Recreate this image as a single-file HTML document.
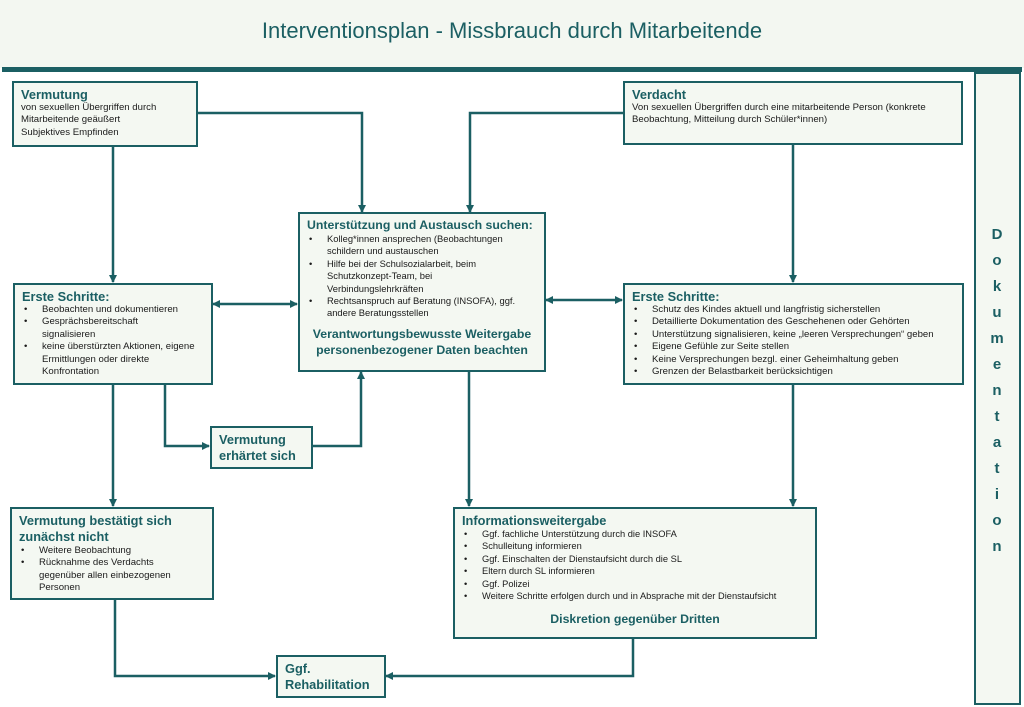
<!DOCTYPE html>
<html><head><meta charset="utf-8"><style>
*{margin:0;padding:0;box-sizing:border-box}
body{width:1024px;height:707px;background:#fff;position:relative;overflow:hidden;font-family:"Liberation Sans",sans-serif;color:#1a1a1a}
.hdr{position:absolute;left:0;top:0;width:1024px;height:68px;background:#f3f7f1;text-align:center;font-size:22px;line-height:62px;color:#1b5f63}
.bar{position:absolute;left:2px;top:67px;width:1020px;height:5px;background:#1b5f63}
.b{position:absolute;border:2.5px solid #1b5f63;background:#f4f8f2;padding:4px 7px;font-size:9.6px;line-height:12.4px}
.h{color:#1b5f63;font-weight:bold;font-size:12.8px;line-height:15px}
ul{list-style:none}
li{position:relative;padding-left:20px}
li:before{content:"•";position:absolute;left:2px}
.c{text-align:center;color:#1b5f63;font-weight:bold;font-size:12.3px;line-height:16px}
.dok{position:absolute;left:974px;top:72px;width:47px;height:633px;border:2.5px solid #1b5f63;background:#f4f8f2}
.dok span{position:absolute;left:0;width:42px;text-align:center;color:#1b5f63;font-weight:bold;font-size:15px}
svg{position:absolute;left:0;top:0}
</style></head><body>
<div class="hdr">Interventionsplan - Missbrauch durch Mitarbeitende</div>
<div class="bar"></div>
<svg width="1024" height="707">
<defs><marker id="a" markerWidth="8" markerHeight="8" refX="7" refY="4" orient="auto" markerUnits="userSpaceOnUse"><path d="M0,0 L8,4 L0,8 z" fill="#1b5f63"/></marker>
<marker id="s" markerWidth="8" markerHeight="8" refX="1" refY="4" orient="auto" markerUnits="userSpaceOnUse"><path d="M8,0 L0,4 L8,8 z" fill="#1b5f63"/></marker></defs>
<g stroke="#1b5f63" stroke-width="2.5" fill="none">
<path d="M113 146 V282" marker-end="url(#a)"/>
<path d="M197 113 H362 V212" marker-end="url(#a)"/>
<path d="M623 113 H470 V212" marker-end="url(#a)"/>
<path d="M793 144 V282" marker-end="url(#a)"/>
<path d="M213 304 H297" marker-start="url(#s)" marker-end="url(#a)"/>
<path d="M546 300 H622" marker-start="url(#s)" marker-end="url(#a)"/>
<path d="M113 384 V506" marker-end="url(#a)"/>
<path d="M165 384 V446 H209" marker-end="url(#a)"/>
<path d="M312 446 H361 V372" marker-end="url(#a)"/>
<path d="M469 371 V506" marker-end="url(#a)"/>
<path d="M793 384 V506" marker-end="url(#a)"/>
<path d="M115 599 V676 H275" marker-end="url(#a)"/>
<path d="M633 638 V676 H386" marker-end="url(#a)"/>
</g></svg>
<div class="b" style="left:12px;top:81px;width:186px;height:66px"><div class="h">Vermutung</div>von sexuellen Übergriffen durch<br>Mitarbeitende geäußert<br>Subjektives Empfinden</div>
<div class="b" style="left:623px;top:81px;width:340px;height:64px"><div class="h">Verdacht</div>Von sexuellen Übergriffen durch eine mitarbeitende Person (konkrete Beobachtung, Mitteilung durch Schüler*innen)</div>
<div class="b" style="left:298px;top:212px;width:248px;height:160px"><div class="h" style="font-size:12.3px">Unterstützung und Austausch suchen:</div><ul style="font-size:9.4px"><li>Kolleg*innen ansprechen (Beobachtungen schildern und austauschen</li><li>Hilfe bei der Schulsozialarbeit, beim Schutzkonzept-Team, bei<br>Verbindungslehrkräften</li><li>Rechtsanspruch auf Beratung (INSOFA), ggf. andere Beratungsstellen</li></ul><div class="c" style="margin-top:6px">Verantwortungsbewusste Weitergabe personenbezogener Daten beachten</div></div>
<div class="b" style="left:13px;top:283px;width:200px;height:102px"><div class="h">Erste Schritte:</div><ul><li>Beobachten und dokumentieren</li><li>Gesprächsbereitschaft<br>signalisieren</li><li>keine überstürzten Aktionen, eigene Ermittlungen oder direkte Konfrontation</li></ul></div>
<div class="b" style="left:623px;top:283px;width:341px;height:102px"><div class="h">Erste Schritte:</div><ul><li>Schutz des Kindes aktuell und langfristig sicherstellen</li><li>Detaillierte Dokumentation des Geschehenen oder Gehörten</li><li>Unterstützung signalisieren, keine „leeren Versprechungen“ geben</li><li>Eigene Gefühle zur Seite stellen</li><li>Keine Versprechungen bezgl. einer Geheimhaltung geben</li><li>Grenzen der Belastbarkeit berücksichtigen</li></ul></div>
<div class="b" style="left:210px;top:426px;width:103px;height:43px;padding-top:4px"><div class="h" style="line-height:16px">Vermutung<br>erhärtet sich</div></div>
<div class="b" style="left:10px;top:507px;width:204px;height:93px"><div class="h" style="line-height:16px">Vermutung bestätigt sich zunächst nicht</div><ul><li>Weitere Beobachtung</li><li>Rücknahme des Verdachts<br>gegenüber allen einbezogenen Personen</li></ul></div>
<div class="b" style="left:453px;top:507px;width:364px;height:132px"><div class="h">Informationsweitergabe</div><ul style="font-size:9.3px"><li>Ggf. fachliche Unterstützung durch die INSOFA</li><li>Schulleitung informieren</li><li>Ggf. Einschalten der Dienstaufsicht durch die SL</li><li>Eltern durch SL informieren</li><li>Ggf. Polizei</li><li>Weitere Schritte erfolgen durch und in Absprache mit der Dienstaufsicht</li></ul><div class="c" style="margin-top:9px">Diskretion gegenüber Dritten</div></div>
<div class="b" style="left:276px;top:655px;width:110px;height:43px;padding-top:4px"><div class="h" style="line-height:16px">Ggf.<br>Rehabilitation</div></div>
<div class="dok">
<span style="top:152px">D</span><span style="top:178px">o</span><span style="top:204px">k</span><span style="top:230px">u</span><span style="top:256px">m</span><span style="top:282px">e</span><span style="top:308px">n</span><span style="top:334px">t</span><span style="top:360px">a</span><span style="top:386px">t</span><span style="top:412px">i</span><span style="top:438px">o</span><span style="top:464px">n</span>
</div>
</body></html>
